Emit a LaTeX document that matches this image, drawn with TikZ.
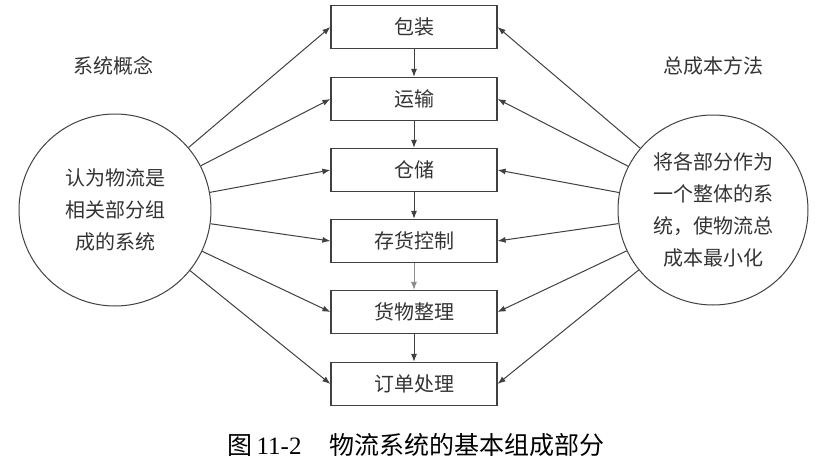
\documentclass[tikz,border=0pt]{standalone}
\usepackage{fontspec}
\setmainfont{Liberation Serif}
\newfontfamily\cjk{Noto Sans CJK SC}
\usetikzlibrary{arrows.meta, positioning}

\begin{document}
\begin{tikzpicture}[x=1pt, y=-1pt,
    every node/.style={font=\cjk\fontsize{20}{32}\selectfont, text=black!80},
    partbox/.style={draw=black!75, rectangle, line width=1.2pt, minimum width=166pt, minimum height=43pt, inner sep=0pt},
    viewcircle/.style={draw=black!75, circle, line width=1pt, minimum size=192pt, inner sep=0pt, align=center},
    arrow/.style={-{Latex[length=8pt, width=6pt]}, draw=black!75, line width=1pt},
    grayarrow/.style={-{Latex[length=8pt, width=6pt]}, draw=black!45, fill=black!45, line width=1pt}
]
    \useasboundingbox (0,0) rectangle (831,471);

    % Logistics parts (middle column)
    \node (pack) [partbox] at (414, 27) {包装};
    \node (transport) [partbox] at (414, 99) {运输};
    \node (storage) [partbox] at (414, 170) {仓储};
    \node (stock) [partbox] at (414, 241) {存货控制};
    \node (handling) [partbox] at (414, 312) {货物整理};
    \node (order) [partbox] at (414, 384) {订单处理};

    % Headers
    \node (syshead) at (113, 66) {系统概念};
    \node (costhead) at (713, 66) {总成本方法};

    % Views
    \node (sysview) [viewcircle] at (115, 210) {认为物流是\\相关部分组\\成的系统};
    \node (costview) [viewcircle, minimum size=190pt] at (713, 210) {将各部分作为\\一个整体的系\\统，使物流总\\成本最小化};

    % Flow between parts
    \draw [arrow] (pack) -- (transport);
    \draw [arrow] (transport) -- (storage);
    \draw [arrow] (storage) -- (stock);
    \draw [grayarrow] (stock) -- (handling);
    \draw [arrow] (handling) -- (order);

    % From the views to the parts
    \foreach \part in {pack, transport, storage, stock, handling, order} {
        \draw [arrow] (sysview) -- (\part.west);
        \draw [arrow] (costview) -- (\part.east);
    }

    % Caption
    \node (caption) [font=\fontsize{25}{30}\selectfont, text=black] at (416, 445)
        {{\cjk 图}\,11-2\hspace{28pt}{\cjk 物流系统的基本组成部分}};

\end{tikzpicture}
\end{document}
